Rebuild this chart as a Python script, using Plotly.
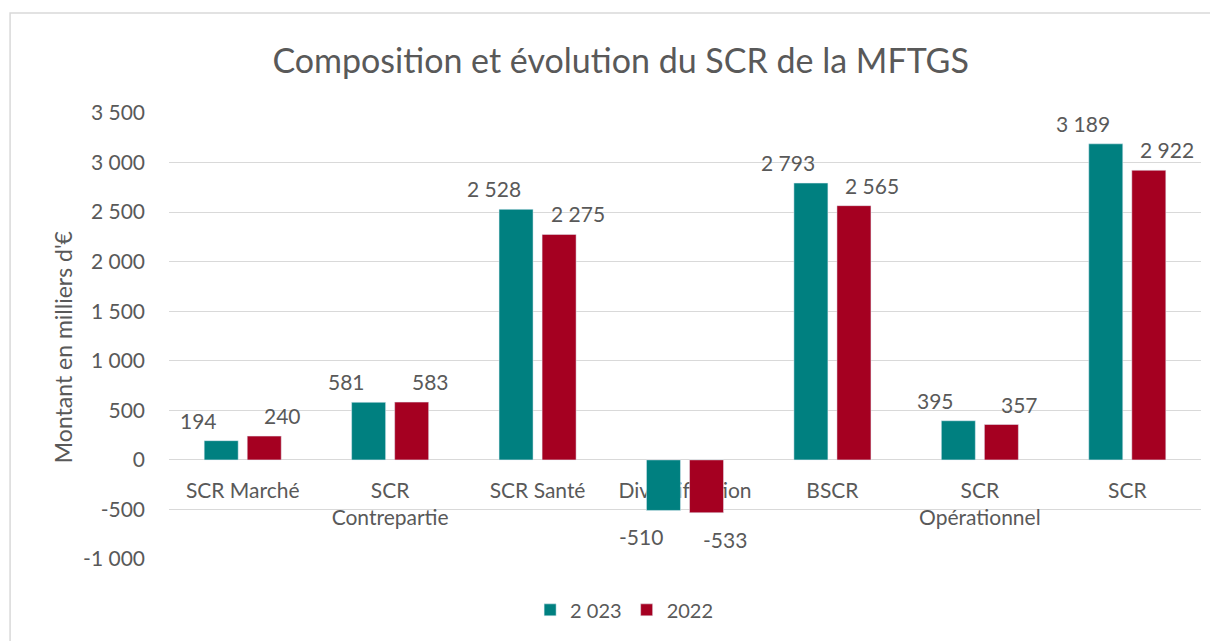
import plotly.graph_objects as go

categories = ["SCR Marché", "SCR<br>Contrepartie", "SCR Santé", "Diversification", "BSCR", "SCR<br>Opérationnel", "SCR"]
values_2023 = [194, 581, 2528, -510, 2793, 395, 3189]
values_2022 = [240, 583, 2275, -533, 2565, 357, 2922]
series_names = ["2 023", "2022"]
y_tickvals = [-1000, -500, 0, 500, 1000, 1500, 2000, 2500, 3000, 3500]
y_ticktext = ["-1 000", "-500", "0", "500", "1 000", "1 500", "2 000", "2 500", "3 000", "3 500"]
y_title = "Montant en milliers d'€"

TEAL = "#008080"
RED = "#A50021"
TXT = "#595959"
FONT = "Lato"


def fmt(v):
    s = f"{abs(v):,}".replace(",", " ")
    return ("-" if v < 0 else "") + s


fig = go.Figure()
fig.add_trace(go.Bar(x=categories, y=values_2023, name=series_names[0], marker_color=TEAL))
fig.add_trace(go.Bar(x=categories, y=values_2022, name=series_names[1], marker_color=RED))

annotations = []
for vals, shift in ((values_2023, -44), (values_2022, 40)):
    for c, v in zip(categories, vals):
        annotations.append(dict(
            x=c, y=v, xref="x", yref="y", text=fmt(v), showarrow=False,
            xshift=shift, yshift=(6 if v >= 0 else -12),
            yanchor=("bottom" if v >= 0 else "top"),
            font=dict(family=FONT, size=21, color=TXT),
        ))
annotations.append(dict(
    text=y_title, xref="paper", yref="paper", x=-0.1027, y=0.475,
    xanchor="center", yanchor="middle", textangle=-90, showarrow=False,
    font=dict(size=23, color=TXT, family=FONT),
))

ymin, ymax = -1000, 3500
zero_pos = (0 - ymin) / (ymax - ymin)

fig.update_layout(
    width=1218, height=641,
    margin=dict(l=161, r=25, t=105, b=90),
    paper_bgcolor="white", plot_bgcolor="white",
    font=dict(family=FONT, color=TXT, size=21),
    title=dict(text="Composition et évolution du SCR de la MFTGS", xref="container", x=0.503, xanchor="center",
               yref="container", y=0.917, yanchor="middle", font=dict(size=34, color=TXT, family=FONT)),
    barmode="group", bargap=0.416, bargroupgap=0.21,
    xaxis=dict(anchor="free", position=zero_pos, showline=False, showgrid=False,
               ticks="outside", ticklen=0, tickcolor="rgba(0,0,0,0)",
               ticklabelstandoff=12, layer="below traces",
               tickfont=dict(size=21, color=TXT, family=FONT)),
    yaxis=dict(range=[ymin, ymax], tickvals=y_tickvals, ticktext=y_ticktext,
               showgrid=True, gridcolor="#D9D9D9", gridwidth=1,
               zeroline=True, zerolinecolor="#D9D9D9", zerolinewidth=1,
               tickfont=dict(size=21, color=TXT, family=FONT), ticklabelstandoff=23),
    legend=dict(orientation="h", x=0.441, xanchor="center", y=-0.114, yanchor="middle",
                font=dict(size=20, color=TXT, family=FONT), itemwidth=30, traceorder="normal"),
    annotations=annotations,
    shapes=[dict(type="rect", xref="paper", yref="paper", x0=-0.154, x1=1.0097, y0=-0.2, y1=1.224,
                 line=dict(color="#D9D9D9", width=1.5), fillcolor="rgba(0,0,0,0)", layer="below")],
)

fig.write_html("out.html")
